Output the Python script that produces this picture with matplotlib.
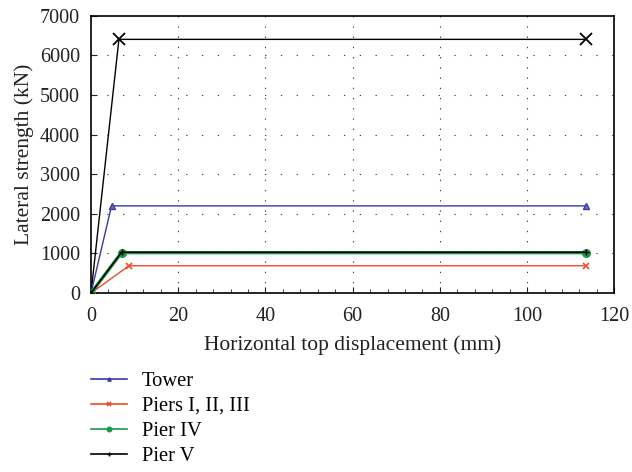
import matplotlib
matplotlib.use("Agg")
import matplotlib.pyplot as plt
from matplotlib.ticker import MultipleLocator

plt.rcParams['font.family'] = ['Liberation Serif', 'DejaVu Serif']

tower_x = [0, 4.7, 113.5]
tower_y = [0, 2200, 2200]
piers123_x = [0, 8.7, 113.5]
piers123_y = [0, 690, 690]
pier4_x = [0, 7.0, 113.5]
pier4_y = [0, 1020, 1020]
pier5_x = [0, 7.0, 113.5]
pier5_y = [0, 1030, 1030]
top_x = [0, 6.4, 113.5]
top_y = [0, 6400, 6400]

fig = plt.figure(figsize=(6.32, 4.72), dpi=100)
ax = fig.add_axes([0.144, 0.379, 0.828, 0.588])

ax.plot(top_x, top_y, color='black', lw=1.0, marker='x', ms=9, mew=1.3, zorder=3)
l1, = ax.plot(tower_x, tower_y, color='#3a3aa5', lw=1.0, marker='^', ms=4, mfc='#7070d0', zorder=3, label='Tower')
l2, = ax.plot(piers123_x, piers123_y, color='#f04a2a', lw=1.0, marker='x', ms=4.5, mew=1.2, zorder=3, label='Piers I, II, III')
l3, = ax.plot(pier4_x, pier4_y, color='#1a9a48', lw=2.4, marker='o', ms=5.5, mfc='#1a9a48', mec='#1a9a48', zorder=3, label='Pier IV')
l4, = ax.plot(pier5_x, pier5_y, color='black', lw=1.1, marker='+', ms=4, zorder=4, label='Pier V')

ax.set_xlim(0, 120)
ax.set_ylim(0, 7000)
ax.xaxis.set_major_locator(MultipleLocator(20))
ax.xaxis.set_minor_locator(MultipleLocator(4))
ax.yaxis.set_major_locator(MultipleLocator(1000))
ax.tick_params(which='both', direction='in', labelsize=14.5, colors='#222222')
ax.tick_params(axis='x', which='both', pad=10)
ax.tick_params(axis='y', which='both', pad=8)
ax.tick_params(which='major', length=4)
ax.tick_params(which='minor', length=3)
for s in ax.spines.values():
    s.set_linewidth(1.2)

for v in range(20, 120, 20):
    ax.plot([v, v], [0, 7000], color='#444444', lw=0.8, ls=(0, (1.2, 8.0)), zorder=1)
for h in range(1000, 7000, 1000):
    ax.plot([0, 120], [h, h], color='#444444', lw=0.8, ls=(0, (1.2, 13.0)), zorder=1)

ax.set_xlabel('Horizontal top displacement (mm)', fontsize=15.5, color='#222222', labelpad=6.5)
ax.set_ylabel('Lateral strength (kN)', fontsize=15.5, color='#222222', labelpad=4)

leg = fig.legend(handles=[l1, l2, l3, l4], loc='upper left', bbox_to_anchor=(0.144, 0.213),
                 frameon=False, fontsize=14.8, handlelength=1.75, handletextpad=0.72,
                 labelspacing=0.28, borderpad=0, borderaxespad=0, markerscale=0.6)
for h in leg.get_lines():
    h.set_linewidth(1.2)

fig.savefig('out.png', dpi=100)
